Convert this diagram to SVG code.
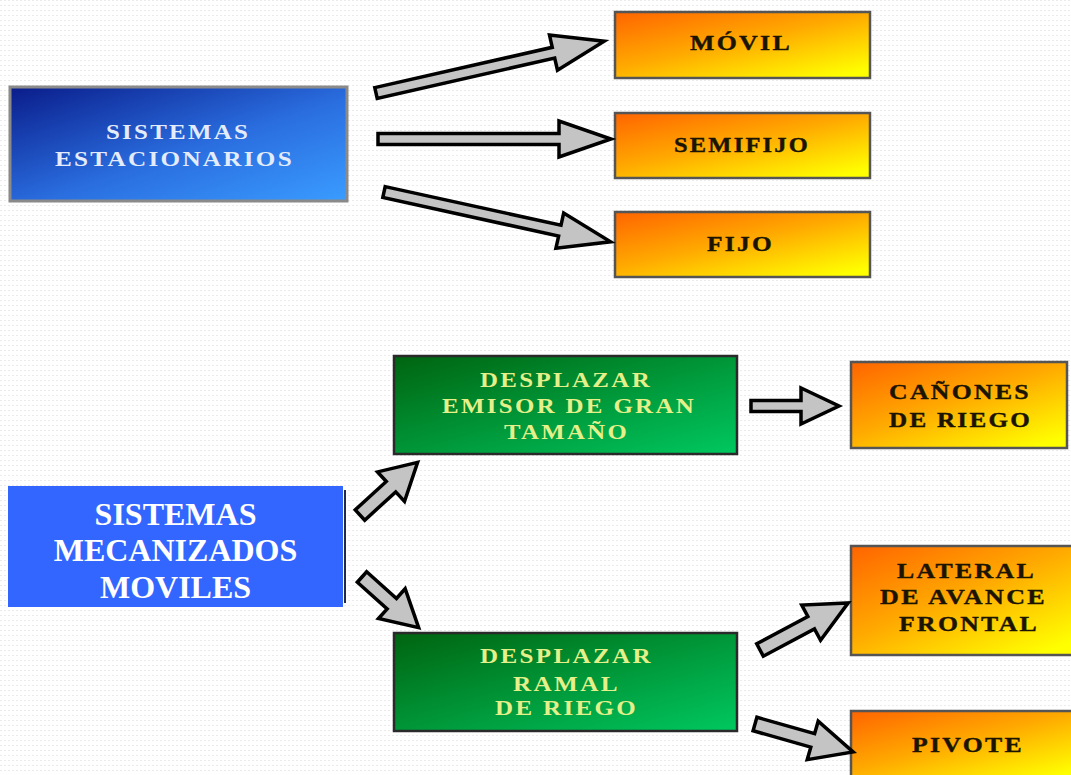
<svg xmlns="http://www.w3.org/2000/svg" width="1071" height="775" viewBox="0 0 1071 775">
<defs>
<pattern id="dots" width="4" height="5" patternUnits="userSpaceOnUse"><rect x="0" y="0" width="2" height="1" fill="#ebebeb"/></pattern>
<linearGradient id="gBlue" x1="0" y1="0" x2="1" y2="1"><stop offset="0" stop-color="#0a1c8a"/><stop offset="0.55" stop-color="#2a6ee0"/><stop offset="1" stop-color="#3a9cff"/></linearGradient>
<linearGradient id="gOrange" x1="0" y1="0" x2="0.85" y2="1"><stop offset="0" stop-color="#ff6400"/><stop offset="0.5" stop-color="#ffaa00"/><stop offset="1" stop-color="#ffff00"/></linearGradient>
<linearGradient id="gGreen" x1="0" y1="0" x2="1" y2="1"><stop offset="0" stop-color="#006410"/><stop offset="1" stop-color="#00c860"/></linearGradient>
<style>
.sr{font-family:"Liberation Serif","Times New Roman",serif;font-weight:bold}
.sp{letter-spacing:2px}
.wt{fill:#e4ecfb;font-size:22px}
.dk{fill:#1a1400;font-size:22px;stroke:#1a1400;stroke-width:0.4}
.gt{fill:#e6f08a;font-size:21px}
.ob{fill:url(#gOrange);stroke:#555;stroke-width:2.5}
.gb{fill:url(#gGreen);stroke:#2a2a2a;stroke-width:2.5}
.ar{fill:#c4c4c4;stroke:#000;stroke-width:3.5;stroke-linejoin:miter}
</style>
</defs>
<rect width="1071" height="775" fill="#ffffff"/>
<rect width="1071" height="775" fill="url(#dots)"/>

<g id="estacionarios">
<rect x="10" y="87" width="337" height="114" fill="url(#gBlue)" stroke="#8a8a8a" stroke-width="3"/>
<text class="sr sp wt" x="106" y="139" textLength="144" lengthAdjust="spacingAndGlyphs">SISTEMAS</text>
<text class="sr sp wt" x="55" y="166" textLength="239" lengthAdjust="spacingAndGlyphs">ESTACIONARIOS</text>
</g>
<g id="movil">
<rect class="ob" x="615" y="12" width="255" height="66"/>
<text class="sr sp dk" x="690" y="50" textLength="102" lengthAdjust="spacingAndGlyphs">MÓVIL</text>
</g>
<g id="semifijo">
<rect class="ob" x="615" y="113" width="255" height="65"/>
<text class="sr sp dk" x="674" y="152" textLength="136" lengthAdjust="spacingAndGlyphs">SEMIFIJO</text>
</g>
<g id="fijo">
<rect class="ob" x="615" y="212" width="255" height="65"/>
<text class="sr sp dk" x="707" y="251" textLength="67" lengthAdjust="spacingAndGlyphs">FIJO</text>
</g>

<g id="mecanizados">
<rect x="8" y="486" width="335" height="121" fill="#3366ff"/>
<line x1="345" y1="490" x2="345" y2="603" stroke="#222a44" stroke-width="2"/>
<text class="sr" x="175.5" y="525" text-anchor="middle" font-size="32" fill="#ffffff">SISTEMAS</text>
<text class="sr" x="175.5" y="561" text-anchor="middle" font-size="32" fill="#ffffff">MECANIZADOS</text>
<text class="sr" x="175.5" y="598" text-anchor="middle" font-size="32" fill="#ffffff">MOVILES</text>
</g>
<g id="emisor">
<rect class="gb" x="394" y="356" width="343" height="98"/>
<text class="sr sp gt" x="480" y="387" textLength="172" lengthAdjust="spacingAndGlyphs">DESPLAZAR</text>
<text class="sr sp gt" x="442" y="413" textLength="254" lengthAdjust="spacingAndGlyphs">EMISOR DE GRAN</text>
<text class="sr sp gt" x="504" y="439" textLength="125" lengthAdjust="spacingAndGlyphs">TAMAÑO</text>
</g>
<g id="ramal">
<rect class="gb" x="394" y="633" width="343" height="98"/>
<text class="sr sp gt" x="480" y="663" textLength="173" lengthAdjust="spacingAndGlyphs">DESPLAZAR</text>
<text class="sr sp gt" x="513" y="691" textLength="107" lengthAdjust="spacingAndGlyphs">RAMAL</text>
<text class="sr sp gt" x="495" y="715" textLength="143" lengthAdjust="spacingAndGlyphs">DE RIEGO</text>
</g>
<g id="canones">
<rect class="ob" x="851" y="362" width="216" height="86"/>
<text class="sr sp dk" x="889" y="399" textLength="142" lengthAdjust="spacingAndGlyphs">CAÑONES</text>
<text class="sr sp dk" x="889" y="427" textLength="143" lengthAdjust="spacingAndGlyphs">DE RIEGO</text>
</g>
<g id="lateral">
<rect class="ob" x="851" y="546" width="222" height="109"/>
<text class="sr sp dk" x="897" y="578" textLength="139" lengthAdjust="spacingAndGlyphs">LATERAL</text>
<text class="sr sp dk" x="880" y="604" textLength="167" lengthAdjust="spacingAndGlyphs">DE AVANCE</text>
<text class="sr sp dk" x="899" y="631" textLength="140" lengthAdjust="spacingAndGlyphs">FRONTAL</text>
</g>
<g id="pivote">
<rect class="ob" x="851" y="711" width="222" height="70"/>
<text class="sr sp dk" x="912" y="752" textLength="112" lengthAdjust="spacingAndGlyphs">PIVOTE</text>
</g>

<g id="connectors">
<path class="ar" transform="translate(376,93) rotate(-12.8)" d="M0,-5.5 L182,-5.5 L182,-18 L234,0 L182,18 L182,5.5 L0,5.5 Z"/>
<path class="ar" transform="translate(378,139)" d="M0,-5.5 L181,-5.5 L181,-18 L233,0 L181,18 L181,5.5 L0,5.5 Z"/>
<path class="ar" transform="translate(384,192) rotate(12.4)" d="M0,-5.5 L180,-5.5 L180,-18 L232,0 L180,18 L180,5.5 L0,5.5 Z"/>
<path class="ar" transform="translate(751,406)" d="M0,-5.5 L50,-5.5 L50,-18 L88,0 L50,18 L50,5.5 L0,5.5 Z"/>
<path class="ar" transform="translate(360,515) rotate(-42.4)" d="M0,-7 L42,-7 L42,-20 L78,0 L42,20 L42,7 L0,7 Z"/>
<path class="ar" transform="translate(362,577) rotate(41.8)" d="M0,-7 L40,-7 L40,-20 L76,0 L40,20 L40,7 L0,7 Z"/>
<path class="ar" transform="translate(760,650) rotate(-28.1)" d="M0,-7 L58,-7 L58,-20 L100,0 L58,20 L58,7 L0,7 Z"/>
<path class="ar" transform="translate(755,724) rotate(15.9)" d="M0,-7 L60,-7 L60,-20 L102,0 L60,20 L60,7 L0,7 Z"/>
</g>
</svg>
